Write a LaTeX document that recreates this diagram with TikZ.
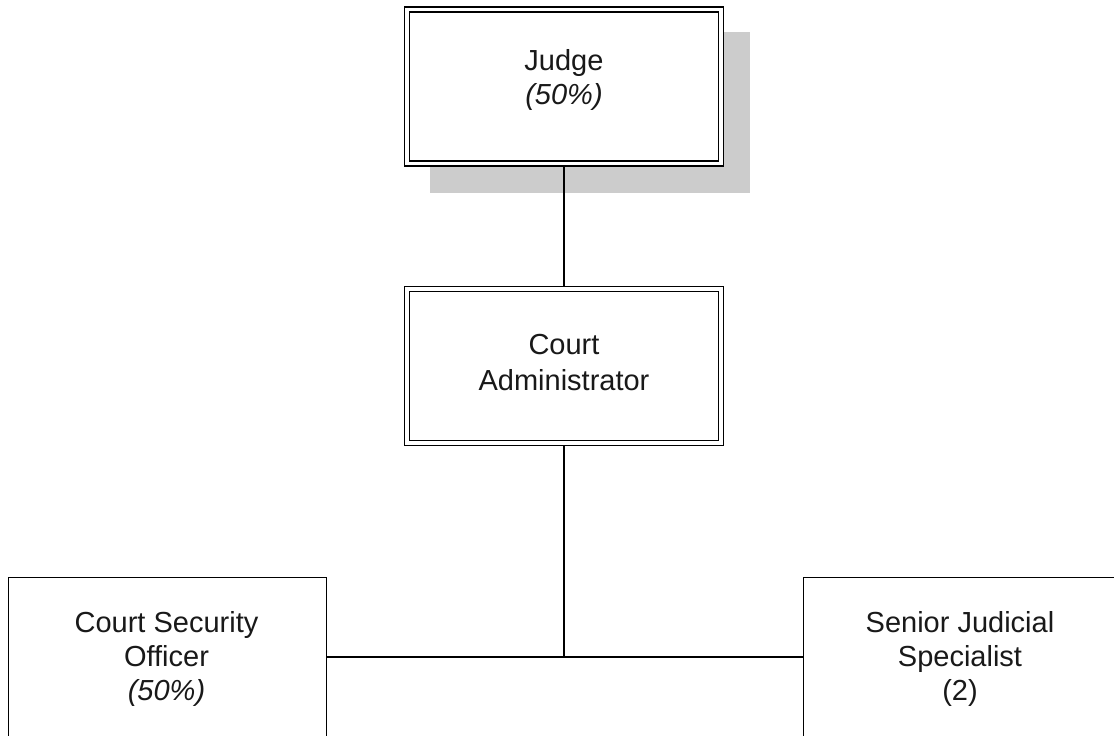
\documentclass[tikz,border=0pt]{standalone}
\usepackage{fontspec}
\setmainfont{Liberation Sans}
\definecolor{shadowgray}{HTML}{CCCCCC}
\begin{document}
\begin{tikzpicture}[x=1pt,y=-1pt,
  dblbox/.style={draw=black, double, double distance=3.8pt, line width=1.2pt,
    fill=white, inner sep=0pt, outer sep=3.1pt, minimum width=314pt, minimum height=154pt},
  plainbox/.style={draw=black, line width=1.3pt, fill=white, inner sep=0pt,
    outer sep=0.65pt, minimum width=318pt, minimum height=200pt},
  lbl/.style={inner sep=0pt, align=center, text=black!90},
  conn/.style={draw=black, line width=1.3pt}]
\useasboundingbox (0,0) rectangle (1114,736);
\clip (0,0) rectangle (1114,736);
% shadow
\node[fill=shadowgray, inner sep=0pt, minimum width=320pt, minimum height=161pt] (shadow) at (590,112.5) {};
% boxes
\node[dblbox] (judge) at (564,86.5) {};
\node[dblbox] (admin) at (564,366) {};
\node[plainbox, anchor=north west] (cso) at (8,577) {};
\node[plainbox, anchor=north west] (sjs) at (803,577) {};
% labels
\node[lbl, font={\fontsize{29}{34}\selectfont}] (judgeT) at (564,79.5) {Judge\\\textit{(50\%)}};
\node[lbl, font={\fontsize{29}{36}\selectfont}] (adminT) at (564,362.5) {Court\\Administrator};
\node[lbl, font={\fontsize{29}{34}\selectfont}] (csoT) at (166.5,658.5) {Court Security\\Officer\\\textit{(50\%)}};
\node[lbl, font={\fontsize{29}{34}\selectfont}] (sjsT) at (960,658.5) {Senior Judicial\\Specialist\\(2)};
% connectors
\coordinate (junc) at (564,657);
\draw[conn] (judge.south) -- (admin.north);
\draw[conn] (admin.south) -- (junc);
\draw[conn] (cso.east |- junc) -- (sjs.west |- junc);
\end{tikzpicture}
\end{document}
